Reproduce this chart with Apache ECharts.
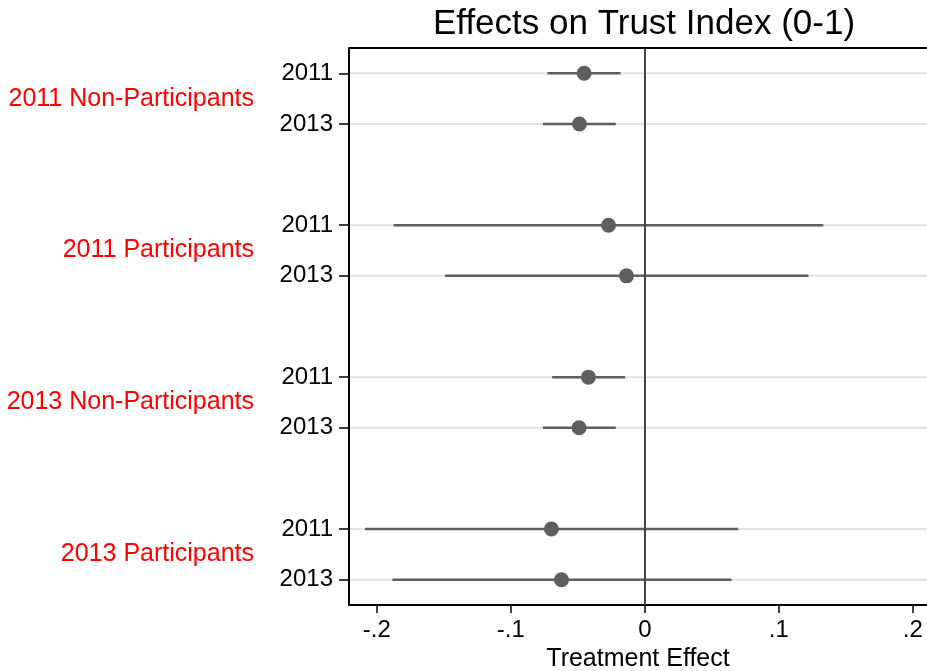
<!DOCTYPE html>
<html>
<head>
<meta charset="utf-8">
<script src="https://cdn.jsdelivr.net/npm/echarts@6/dist/echarts.min.js"></script>
<style>html,body{margin:0;padding:0;background:#fff}#c{width:927px;height:671px}</style>
</head>
<body>
<div id="c"></div>
<script>
// Row slots (top to bottom); '' marks the empty spacer slots between groups
const rowLabels = ['2011','2013','','2011','2013','','2011','2013','','2011','2013'];
const groupNames = ['2011 Non-Participants','2011 Participants','2013 Non-Participants','2013 Participants'];
// row index of each estimate (slot index)
const rowSlots = [0,1,3,4,6,7,9,10];
const estimates = [-0.0453,-0.0488,-0.0271,-0.0137,-0.0421,-0.0491,-0.0697,-0.0622];
const ciLow     = [-0.0727,-0.0760,-0.1875,-0.1491,-0.0692,-0.0760,-0.2089,-0.1884];
const ciHigh    = [-0.0181,-0.0217, 0.1332, 0.1222,-0.0147,-0.0217, 0.0697, 0.0647];
const xTicks = [-0.2,-0.1,0,0.1,0.2];
const xMin = -0.2208, xMax = 0.2106;

const font = '"Liberation Sans", Arial, sans-serif';
const gray = '#5e5e5e';

const pointData = rowSlots.map((s,i)=>[estimates[i], s]);
const ciData = rowSlots.map((s,i)=>[ciLow[i], ciHigh[i], s]);
const gridData = rowSlots.map(s=>[s]);
const groupData = groupNames.map((g,i)=>[rowSlots[2*i], rowSlots[2*i+1], g]);

const chart = echarts.init(document.getElementById('c'), null, {renderer:'canvas'});
chart.setOption({
  animation:false,
  backgroundColor:'#fff',
  title:{text:'Effects on Trust Index (0-1)', left:639, top:2, textAlign:'center',
    textStyle:{fontFamily:font, fontSize:35, fontWeight:'normal', color:'#000'}},
  grid:{left:349, top:48, right:0, bottom:66, show:false, containLabel:false, outerBoundsMode:'none'},
  xAxis:{type:'value', min:xMin, max:xMax,
    axisLine:{show:true, onZero:false, lineStyle:{color:'#000', width:2}},
    axisTick:{show:true, length:8, customValues:xTicks, lineStyle:{color:'#000', width:1.5}},
    axisLabel:{customValues:xTicks, fontFamily:font, fontSize:24, color:'#000', margin:13,
      formatter:v=>{ if(Math.abs(v)<1e-9) return '0'; return (v<0?'-':'')+Math.abs(v).toFixed(1).replace(/^0/,''); }},
    splitLine:{show:false},
    name:'Treatment Effect', nameLocation:'middle', nameGap:40,
    nameTextStyle:{fontFamily:font, fontSize:25, color:'#000'}
  },
  yAxis:{type:'category', data:rowLabels, inverse:true, boundaryGap:true,
    axisLine:{show:true, onZero:false, lineStyle:{color:'#000', width:2}},
    axisTick:{show:true, alignWithLabel:true, length:10, interval:(i,v)=>v!=='', lineStyle:{color:'#000', width:1.5}},
    axisLabel:{fontFamily:font, fontSize:24, color:'#000', margin:16, interval:0},
    splitLine:{show:false}
  },
  graphic:[{type:'line', shape:{x1:349, y1:48, x2:927, y2:48}, style:{stroke:'#000', lineWidth:2}, z:100}],
  series:[
    {type:'custom', data:gridData, z:1, silent:true,
      renderItem:(p,api)=>{
        const y = api.coord([0, api.value(0)])[1];
        const cs = p.coordSys;
        return {type:'line', shape:{x1:cs.x+1, y1:y, x2:cs.x+cs.width, y2:y}, style:{stroke:'#e2e2e2', lineWidth:2}};
      },
      encode:{y:0}
    },
    {type:'custom', data:groupData, z:5, silent:true,
      renderItem:(p,api)=>{
        const y1 = api.coord([0, api.value(0)])[1];
        const y2 = api.coord([0, api.value(1)])[1];
        return {type:'text', x:254, y:(y1+y2)/2,
          style:{text:groupData[p.dataIndex][2], fill:'#ff0000', font:'25px '+font, align:'right', verticalAlign:'middle'}};
      },
      encode:{y:[0,1]}
    },
    {type:'custom', data:ciData, z:3, silent:true,
      renderItem:(p,api)=>{
        const a = api.coord([api.value(0), api.value(2)]);
        const b = api.coord([api.value(1), api.value(2)]);
        return {type:'line', shape:{x1:a[0], y1:a[1], x2:b[0], y2:b[1]}, style:{stroke:gray, lineWidth:2.5}};
      },
      encode:{x:[0,1], y:2}
    },
    {type:'scatter', data:pointData, z:4, symbol:'circle', symbolSize:15,
      itemStyle:{color:gray, opacity:1},
      markLine:{silent:true, symbol:'none', label:{show:false},
        lineStyle:{color:'#444', width:2, type:'solid'},
        data:[{xAxis:0}]}
    }
  ]
});
</script>
</body>
</html>
